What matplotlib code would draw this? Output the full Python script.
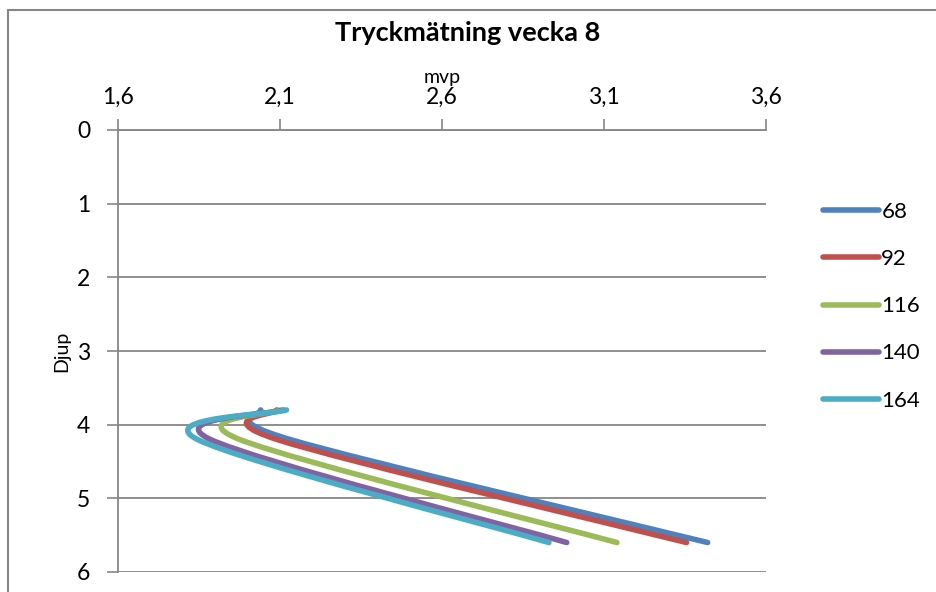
import numpy as np
import matplotlib
matplotlib.use("Agg")
import matplotlib.pyplot as plt
from matplotlib.patches import Rectangle, PathPatch
from matplotlib.path import Path

plt.rcParams['font.family'] = ['Lato', 'DejaVu Sans']

# Depth of each reading and the measured mvp per series
depths = [3.8, 4.2, 5.6]
series_names = ["68", "92", "116", "140", "164"]
mvp_68 = [2.04, 2.13, 3.42]
mvp_92 = [2.09, 2.09, 3.355]
mvp_116 = [2.10, 1.975, 3.14]
mvp_140 = [2.11, 1.885, 2.985]
mvp_164 = [2.12, 1.845, 2.93]
series_values = [mvp_68, mvp_92, mvp_116, mvp_140, mvp_164]
colors = ["#4F81BD", "#C0504D", "#9BBB59", "#8064A2", "#4BACC6"]

x_ticks = [1.6, 2.1, 2.6, 3.1, 3.6]
y_ticks = [0, 1, 2, 3, 4, 5, 6]

grid_col = "#868686"
LW = 4.0

fig = plt.figure(figsize=(9.36, 5.92), dpi=100)
ax = fig.add_axes([118 / 936, 1 - 572 / 592, (766 - 118) / 936, (572 - 130) / 592])
ax.set_xlim(1.6, 3.6)
ax.set_ylim(6, 0)


def smooth_path(xs, ys):
    """Catmull-Rom style Bezier smoothing through the points, in screen space."""
    pts = ax.transData.transform(np.column_stack([xs, ys]))
    n = len(pts)
    verts = [pts[0]]
    codes = [Path.MOVETO]
    for i in range(n - 1):
        p0 = pts[max(i - 1, 0)]
        p1 = pts[i]
        p2 = pts[i + 1]
        p3 = pts[min(i + 2, n - 1)]
        c1 = p1 + (p2 - p0) / 6.0
        c2 = p2 - (p3 - p1) / 6.0
        verts += [c1, c2, p2]
        codes += [Path.CURVE4] * 3
    verts = ax.transData.inverted().transform(np.array(verts))
    return Path(verts, codes)


handles = []
for name, vals, col in zip(series_names, series_values, colors):
    patch = PathPatch(smooth_path(vals, depths), facecolor="none", edgecolor=col,
                      lw=LW, capstyle="round", joinstyle="round", zorder=3)
    ax.add_patch(patch)
    h, = ax.plot([], [], color=col, lw=LW, solid_capstyle="round", label=name)
    handles.append(h)

# axes styling
ax.xaxis.tick_top()
ax.xaxis.set_label_position("top")
ax.set_xticks(x_ticks)
ax.set_xticklabels([f"{v:.1f}".replace(".", ",") for v in x_ticks])
ax.set_yticks(y_ticks)
ax.set_yticklabels([str(v) for v in y_ticks])
ax.tick_params(axis="x", direction="out", length=8, width=1.2, color=grid_col,
               labelsize=16.5, pad=8)
ax.tick_params(axis="y", direction="out", length=8, width=1.2, color=grid_col,
               labelsize=16.5, pad=12)
for s in ["right", "bottom"]:
    ax.spines[s].set_visible(False)
for s in ["left", "top"]:
    ax.spines[s].set_color(grid_col)
    ax.spines[s].set_linewidth(1.3)
ax.yaxis.grid(True, color=grid_col, lw=1.3)
ax.set_axisbelow(True)

ax.set_xlabel("mvp", fontsize=14, labelpad=3)
ax.set_ylabel("Djup", fontsize=14, labelpad=5)

fig.text(0.5, 1 - 33 / 592, "Tryckmätning vecka 8", ha="center", va="center",
         fontsize=19.5, fontweight="bold")

leg = fig.legend(handles=handles, loc="upper left",
                 bbox_to_anchor=(812 / 936, 1 - 191 / 592),
                 frameon=False, fontsize=16, handlelength=2.5,
                 handletextpad=0.12, labelspacing=1.22, borderpad=0)

# chart area border
fig.patches.append(Rectangle((8 / 936, -0.1), 1.2, 1 - 10 / 592 + 0.1,
                             transform=fig.transFigure, fill=False,
                             edgecolor=grid_col, lw=1.5))

fig.savefig("out.png", dpi=100)
